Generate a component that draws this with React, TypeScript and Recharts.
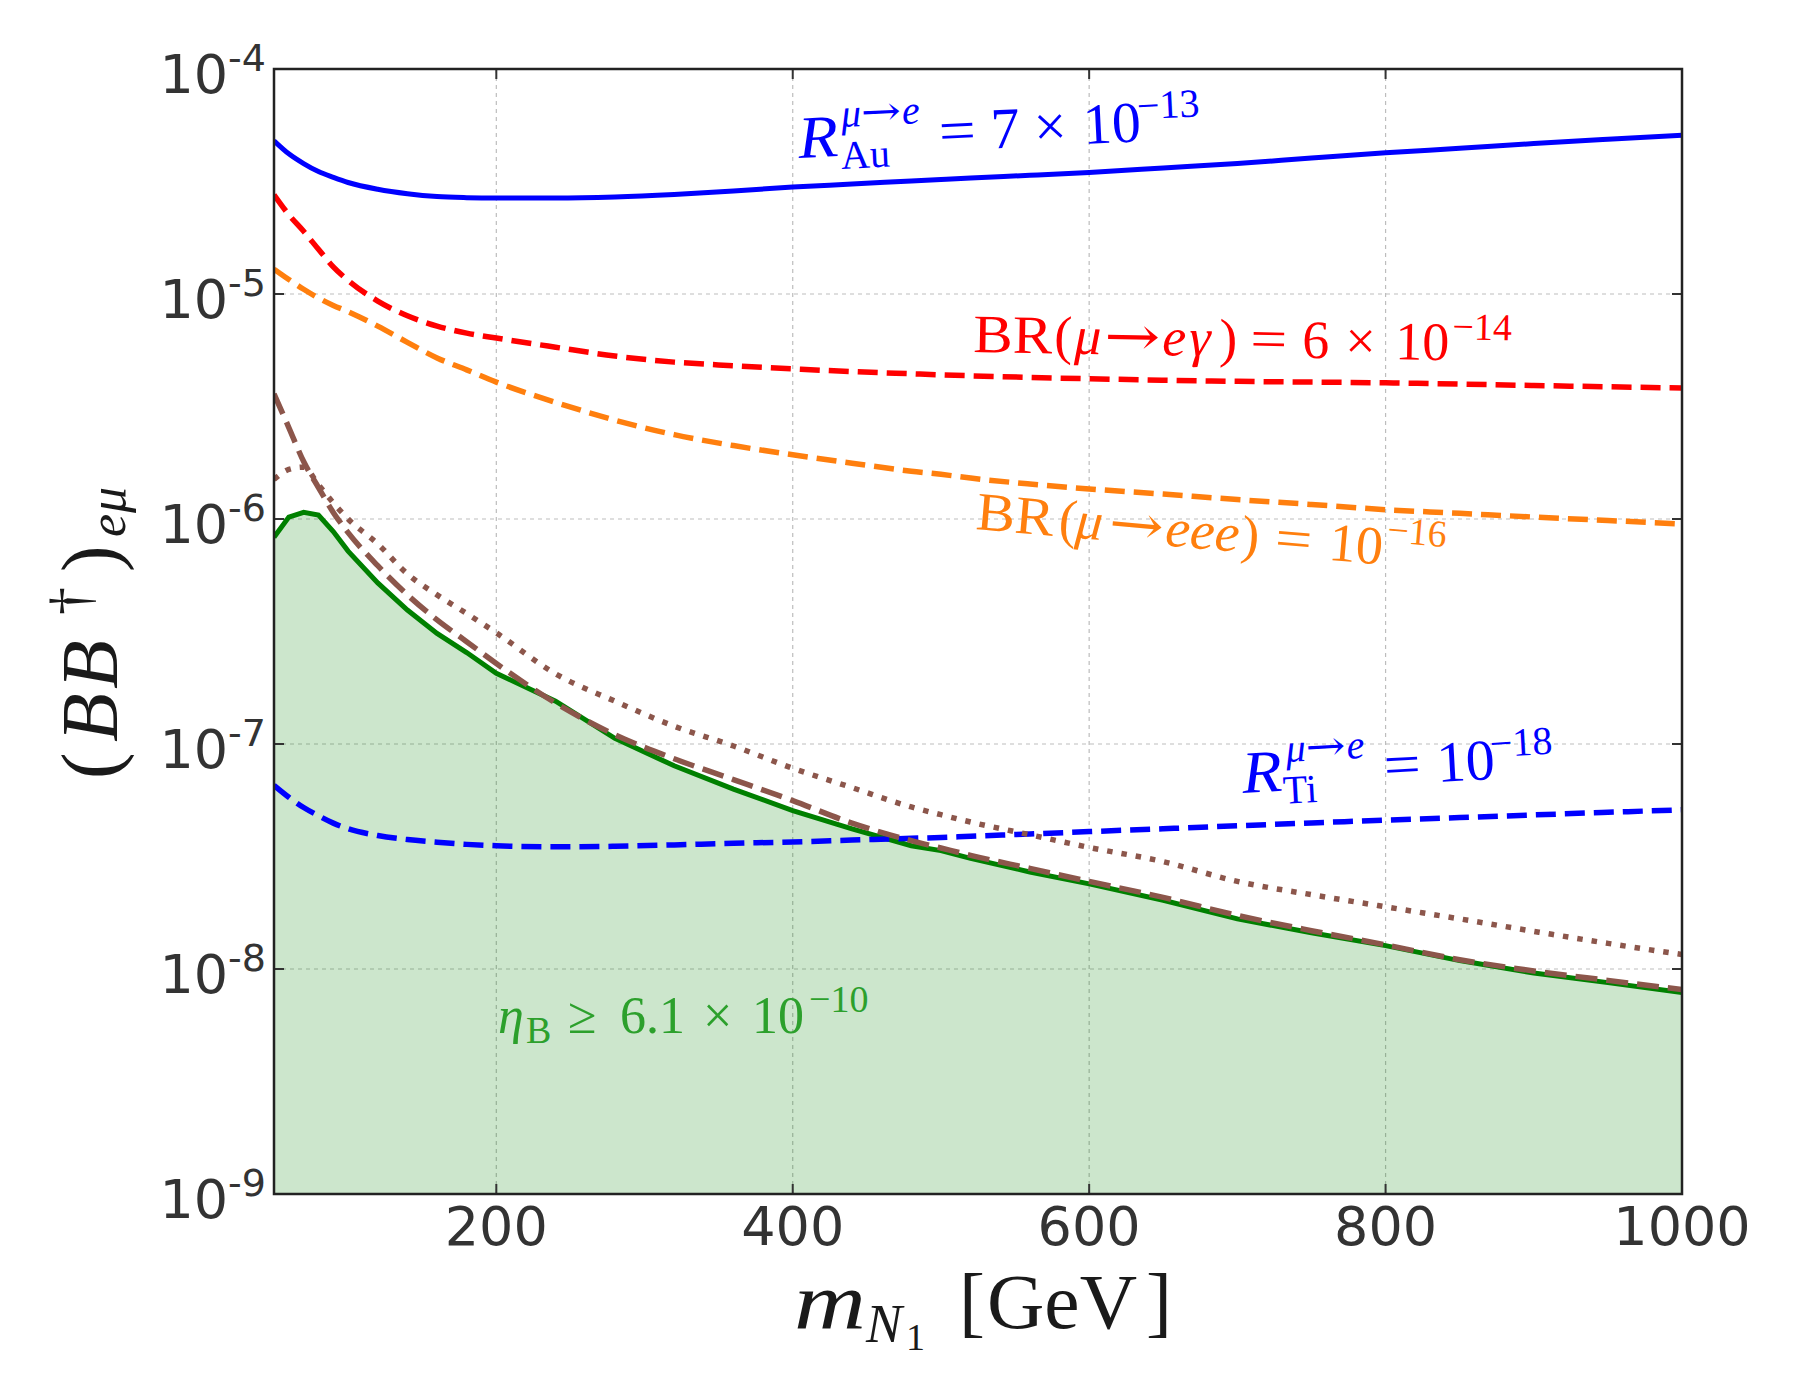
import React from 'react';
import { ComposedChart, Line, Area, XAxis, YAxis, CartesianGrid } from 'recharts';

// heavy-neutrino mass grid [GeV]
const MASS = [50, 60, 70, 80, 90, 100, 120, 140, 160, 180, 200, 240, 280, 320, 360, 400, 440, 480, 500, 520, 560, 600, 650, 700, 750, 800, 850, 900, 950, 1000];

// R(mu->e) in Au = 7e-13
const AU = [4.8e-5, 4.2e-5, 3.8e-5, 3.5e-5, 3.3e-5, 3.13e-5, 2.92e-5, 2.79e-5, 2.71e-5, 2.68e-5, 2.67e-5, 2.67e-5, 2.7e-5, 2.77e-5, 2.87e-5, 2.99e-5, 3.08e-5, 3.18e-5, 3.23e-5, 3.28e-5, 3.37e-5, 3.47e-5, 3.63e-5, 3.8e-5, 4.02e-5, 4.24e-5, 4.44e-5, 4.66e-5, 4.87e-5, 5.08e-5];
// BR(mu->e gamma) = 6e-14
const EGAMMA = [2.76e-5, 2.25e-5, 1.9e-5, 1.58e-5, 1.32e-5, 1.15e-5, 9.3e-6, 8.0e-6, 7.2e-6, 6.7e-6, 6.37e-6, 5.8e-6, 5.3e-6, 4.98e-6, 4.8e-6, 4.65e-6, 4.52e-6, 4.42e-6, 4.37e-6, 4.33e-6, 4.26e-6, 4.2e-6, 4.14e-6, 4.09e-6, 4.06e-6, 4.03e-6, 3.98e-6, 3.92e-6, 3.87e-6, 3.82e-6];
// BR(mu->eee) = 1e-16
const EEE = [1.29e-5, 1.16e-5, 1.05e-5, 9.6e-6, 8.9e-6, 8.35e-6, 7.2e-6, 6.1e-6, 5.2e-6, 4.6e-6, 4.06e-6, 3.3e-6, 2.75e-6, 2.37e-6, 2.12e-6, 1.93e-6, 1.77e-6, 1.63e-6, 1.58e-6, 1.52e-6, 1.43e-6, 1.36e-6, 1.29e-6, 1.22e-6, 1.16e-6, 1.1e-6, 1.06e-6, 1.02e-6, 9.85e-7, 9.5e-7];
// R(mu->e) in Ti = 1e-18
const TI = [6.55e-8, 5.8e-8, 5.22e-8, 4.8e-8, 4.45e-8, 4.2e-8, 3.92e-8, 3.76e-8, 3.66e-8, 3.58e-8, 3.53e-8, 3.49e-8, 3.51e-8, 3.56e-8, 3.62e-8, 3.67e-8, 3.74e-8, 3.81e-8, 3.84e-8, 3.89e-8, 3.98e-8, 4.08e-8, 4.2e-8, 4.33e-8, 4.46e-8, 4.59e-8, 4.71e-8, 4.84e-8, 4.97e-8, 5.1e-8];
// leptogenesis bound eta_B >= 6.1e-10
const ETA_B = [8.3e-7, 1.02e-6, 1.07e-6, 1.04e-6, 8.8e-7, 7.2e-7, 5.2e-7, 3.94e-7, 3.1e-7, 2.55e-7, 2.06e-7, 1.55e-7, 1.06e-7, 8.0e-8, 6.3e-8, 5.06e-8, 4.2e-8, 3.53e-8, 3.36e-8, 3.1e-8, 2.7e-8, 2.39e-8, 2.02e-8, 1.67e-8, 1.45e-8, 1.27e-8, 1.09e-8, 9.6e-9, 8.7e-9, 7.87e-9];
// brown dashed / dotted curves
const BROWN_DASH = [3.6e-6, 2.55e-6, 1.8e-6, 1.38e-6, 1.07e-6, 8.7e-7, 6.2e-7, 4.6e-7, 3.56e-7, 2.85e-7, 2.28e-7, 1.52e-7, 1.1e-7, 8.6e-8, 6.95e-8, 5.6e-8, 4.45e-8, 3.72e-8, 3.45e-8, 3.2e-8, 2.8e-8, 2.45e-8, 2.08e-8, 1.73e-8, 1.48e-8, 1.28e-8, 1.1e-8, 9.8e-9, 8.9e-9, 8.1e-9];
const BROWN_DOT = [1.5e-6, 1.66e-6, 1.7e-6, 1.42e-6, 1.18e-6, 1.0e-6, 7.75e-7, 5.7e-7, 4.6e-7, 3.8e-7, 3.12e-7, 2.05e-7, 1.55e-7, 1.2e-7, 9.8e-8, 7.8e-8, 6.4e-8, 5.25e-8, 4.85e-8, 4.5e-8, 3.95e-8, 3.47e-8, 3.0e-8, 2.45e-8, 2.14e-8, 1.89e-8, 1.67e-8, 1.47e-8, 1.3e-8, 1.16e-8];

const X_TICKS = [200, 400, 600, 800, 1000];
const Y_TICKS = [1e-9, 1e-8, 1e-7, 1e-6, 1e-5, 1e-4];
const Y_MINOR = Y_TICKS.slice(0, -1).flatMap((d) => [2, 3, 4, 5, 6, 7, 8, 9].map((k) => k * d));

const rows = MASS.map((m, i) => ({
  m,
  au: AU[i],
  eg: EGAMMA[i],
  eee: EEE[i],
  ti: TI[i],
  eta: ETA_B[i],
  bd: BROWN_DASH[i],
  bdot: BROWN_DOT[i],
}));

const W = 1800;
const H = 1400;
const PLOT = { left: 274, top: 69, right: 1682, bottom: 1194 };

const FONT_TICK = '"DejaVu Sans", sans-serif';
const FONT_MATH = '"Liberation Serif", "DejaVu Serif", serif';
const FONT_ARROW = '"DejaVu Serif", serif';
const TICK_COLOR = '#333333';

function XTick(props: any) {
  const { x, payload } = props;
  return (
    <g>
      <line x1={x} x2={x} y1={PLOT.bottom} y2={PLOT.bottom - 10} stroke={TICK_COLOR} strokeWidth={2} />
      <line x1={x} x2={x} y1={PLOT.top} y2={PLOT.top + 10} stroke={TICK_COLOR} strokeWidth={2} />
      <text x={x} y={1245} textAnchor="middle" style={{ fontFamily: FONT_TICK }} fontSize={54} fill={TICK_COLOR}>
        {payload.value}
      </text>
    </g>
  );
}

function YTick(props: any) {
  const { y, payload } = props;
  const exp = Math.round(Math.log10(payload.value));
  return (
    <g>
      <line x1={PLOT.left} x2={PLOT.left + 10} y1={y} y2={y} stroke={TICK_COLOR} strokeWidth={2} />
      <line x1={PLOT.right} x2={PLOT.right - 10} y1={y} y2={y} stroke={TICK_COLOR} strokeWidth={2} />
      <text x={PLOT.left - 8} y={y + 23.5} textAnchor="end" style={{ fontFamily: FONT_TICK }} fontSize={54} fill={TICK_COLOR}>
        10
        <tspan dy={-22} fontSize={38}>{`${exp}`}</tspan>
      </text>
    </g>
  );
}

function YMinorTick(props: any) {
  const { y } = props;
  return (
    <g>
      <line x1={PLOT.left} x2={PLOT.left + 6} y1={y} y2={y} stroke={TICK_COLOR} strokeWidth={1.5} />
      <line x1={PLOT.right} x2={PLOT.right - 6} y1={y} y2={y} stroke={TICK_COLOR} strokeWidth={1.5} />
    </g>
  );
}

// one glyph run of a math label: text, local x, baseline shift, size, italic, stretched width
type Piece = { t: string; x: number; y?: number; s?: number; i?: boolean; w?: number; f?: string };

function MathLabel({ x, y, angle = 0, color, size, pieces }: { x: number; y: number; angle?: number; color: string; size: number; pieces: Piece[] }) {
  return (
    <g transform={`translate(${x},${y}) rotate(${angle})`}>
      {pieces.map((p, k) => (
        <text
          key={k}
          x={p.x}
          y={p.y ?? 0}
          fill={color}
          fontSize={p.s ?? size}
          style={{ fontFamily: p.f ?? FONT_MATH, fontStyle: p.i ? 'italic' : 'normal' }}
          textLength={p.w}
          lengthAdjust={p.w ? 'spacingAndGlyphs' : undefined}
        >
          {p.t}
        </text>
      ))}
    </g>
  );
}

function Annotations() {
  return (
    <svg width={W} height={H} style={{ position: 'absolute', left: 0, top: 0, pointerEvents: 'none' }}>
      <rect
        x={PLOT.left}
        y={PLOT.top}
        width={PLOT.right - PLOT.left}
        height={PLOT.bottom - PLOT.top}
        fill="none"
        stroke="#222"
        strokeWidth={2.5}
      />
      <MathLabel
        x={799}
        y={158}
        angle={-2.8}
        color="#0000ff"
        size={58}
        pieces={[
          { t: 'R', x: 0, s: 60, i: true, w: 40 },
          { t: 'Au', x: 42, y: 13, s: 40 },
          { t: 'μ', x: 44, y: -29, s: 40, i: true },
          { t: '→', x: 64, y: -29, s: 40, w: 40, f: FONT_ARROW },
          { t: 'e', x: 105, y: -29, s: 40, i: true },
          { t: '=', x: 141, w: 37 },
          { t: '7', x: 193 },
          { t: '×', x: 236 },
          { t: '10', x: 285 },
          { t: '−13', x: 340, y: -22, s: 40 },
        ]}
      />
      <MathLabel
        x={973}
        y={352}
        angle={1}
        color="#ff0000"
        size={54}
        pieces={[
          { t: 'BR', x: 0, w: 79 },
          { t: '(', x: 81 },
          { t: 'μ', x: 101, i: true },
          { t: '→', x: 131, w: 56, f: FONT_ARROW },
          { t: 'e', x: 189, i: true },
          { t: 'γ', x: 216, i: true },
          { t: ')', x: 246 },
          { t: '=', x: 277, w: 37 },
          { t: '6', x: 329 },
          { t: '×', x: 372 },
          { t: '10', x: 422 },
          { t: '−14', x: 479, y: -21, s: 38 },
        ]}
      />
      <MathLabel
        x={975}
        y={529}
        angle={5}
        color="#ff7f0e"
        size={54}
        pieces={[
          { t: 'BR', x: 0, w: 78 },
          { t: '(', x: 83 },
          { t: 'μ', x: 100, i: true },
          { t: '→', x: 133, w: 55, f: FONT_ARROW },
          { t: 'eee', x: 190, i: true, w: 74 },
          { t: ')', x: 266 },
          { t: '=', x: 300, w: 37 },
          { t: '10', x: 354 },
          { t: '−16', x: 411, y: -23, s: 38 },
        ]}
      />
      <MathLabel
        x={1243}
        y={793}
        angle={-3.2}
        color="#0000ff"
        size={58}
        pieces={[
          { t: 'R', x: 0, s: 60, i: true, w: 40 },
          { t: 'Ti', x: 40, y: 13, s: 40 },
          { t: 'μ', x: 45, y: -28.5, s: 40, i: true },
          { t: '→', x: 65, y: -28.5, s: 40, w: 40, f: FONT_ARROW },
          { t: 'e', x: 106, y: -28.5, s: 40, i: true },
          { t: '=', x: 142, w: 37 },
          { t: '10', x: 195 },
          { t: '−18', x: 249, y: -22, s: 40 },
        ]}
      />
      <MathLabel
        x={498}
        y={1033}
        color="#2ca02c"
        size={52}
        pieces={[
          { t: 'η', x: 0, i: true },
          { t: 'B', x: 28, y: 10, s: 38 },
          { t: '≥', x: 70 },
          { t: '6.1', x: 122 },
          { t: '×', x: 205 },
          { t: '10', x: 254 },
          { t: '−10', x: 311, y: -21, s: 38 },
        ]}
      />
      {/* axis titles */}
      <MathLabel
        x={794}
        y={1328}
        color="#1a1a1a"
        size={78}
        pieces={[
          { t: 'm', x: 0, s: 80, i: true, w: 72 },
          { t: 'N', x: 72, y: 14, s: 54, i: true },
          { t: '1', x: 112, y: 22, s: 38 },
          { t: '[', x: 165 },
          { t: 'GeV', x: 193, w: 150 },
          { t: ']', x: 352 },
        ]}
      />
      <MathLabel
        x={117}
        y={775}
        angle={-90}
        color="#1a1a1a"
        size={80}
        pieces={[
          { t: '(', x: -4 },
          { t: 'B', x: 33, i: true },
          { t: 'B', x: 86, i: true },
          { t: '†', x: 160, y: -28, s: 56 },
          { t: ')', x: 203 },
          { t: 'e', x: 238, y: 8, s: 52, i: true },
          { t: 'μ', x: 262, y: 8, s: 52, i: true },
        ]}
      />
    </svg>
  );
}

export default function App() {
  return (
    <div style={{ position: 'absolute', left: 0, top: 0, width: W, height: H, background: '#fff' }}>
      <ComposedChart
        width={W}
        height={H}
        data={rows}
        margin={{ top: PLOT.top, right: W - PLOT.right, bottom: H - PLOT.bottom - 30, left: PLOT.left - 60 }}
      >
        <CartesianGrid stroke="#bdbdbd" strokeWidth={1.2} strokeDasharray="4 4" />
        <XAxis
          dataKey="m"
          type="number"
          domain={[50, 1000]}
          allowDataOverflow
          ticks={X_TICKS}
          interval={0}
          height={30}
          axisLine={false}
          tickLine={false}
          tick={<XTick />}
        />
        <YAxis
          type="number"
          scale="log"
          domain={[1e-9, 1e-4]}
          allowDataOverflow
          ticks={Y_TICKS}
          interval={0}
          width={60}
          axisLine={false}
          tickLine={false}
          tick={<YTick />}
        />
        <YAxis
          yAxisId="minor"
          type="number"
          scale="log"
          domain={[1e-9, 1e-4]}
          allowDataOverflow
          ticks={Y_MINOR}
          interval={0}
          width={0}
          axisLine={false}
          tickLine={false}
          tick={<YMinorTick />}
        />
        <Area
          dataKey="eta"
          type="linear"
          baseValue={1e-9}
          stroke="#008000"
          strokeWidth={5}
          fill="#008000"
          fillOpacity={0.2}
          dot={false}
          activeDot={false}
          isAnimationActive={false}
        />
        <Line dataKey="au" type="monotone" stroke="#0000ff" strokeWidth={5} dot={false} activeDot={false} isAnimationActive={false} />
        <Line dataKey="eg" type="monotone" stroke="#ff0000" strokeWidth={5.5} strokeDasharray="20 9" dot={false} activeDot={false} isAnimationActive={false} />
        <Line dataKey="eee" type="monotone" stroke="#ff7f0e" strokeWidth={5.5} strokeDasharray="20 9" dot={false} activeDot={false} isAnimationActive={false} />
        <Line dataKey="ti" type="monotone" stroke="#0000ff" strokeWidth={5.5} strokeDasharray="20 9" dot={false} activeDot={false} isAnimationActive={false} />
        <Line dataKey="bd" type="monotone" stroke="#8c564b" strokeWidth={5.5} strokeDasharray="22 9" dot={false} activeDot={false} isAnimationActive={false} />
        <Line dataKey="bdot" type="monotone" stroke="#8c564b" strokeWidth={5.5} strokeDasharray="5.5 9" dot={false} activeDot={false} isAnimationActive={false} />
      </ComposedChart>
      <Annotations />
    </div>
  );
}
